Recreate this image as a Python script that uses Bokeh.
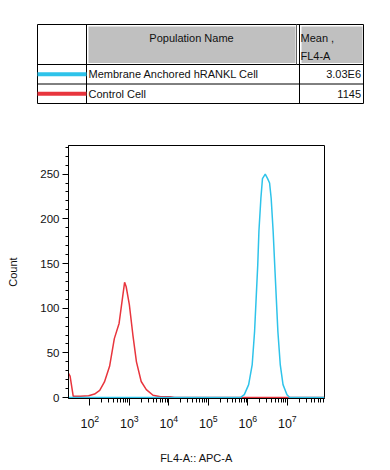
from bokeh.plotting import figure
from bokeh.models import Range1d, FixedTicker, LogTickFormatter, ColumnDataSource
from bokeh.core.properties import value
from bokeh.embed import file_html
from bokeh.resources import INLINE

# ---------------- data ----------------
populations = ["Membrane Anchored hRANKL Cell", "Control Cell"]
mean_fl4a = ["3.03E6", "1145"]
series_colors = ["#2EC3EA", "#E8353D"]
header_name = "Population Name"
header_mean = ["Mean ,", "FL4-A"]

# Control cell histogram (log10 of FL4-A, count)
red_log10 = [1.46, 1.50, 1.58, 1.76, 1.97, 2.12, 2.25, 2.37, 2.50, 2.62, 2.74, 2.81,
             2.88, 2.92, 3.00, 3.09, 3.18, 3.30, 3.43, 3.60, 3.79, 4.04, 4.14, 7.94]
red_count = [27, 24, 1.5, 1.5, 2, 4, 8, 17.5, 35, 66, 83, 106,
             129, 124, 104, 70, 40, 18, 9, 2.6, 1, 1, 0, 0]

# Membrane anchored hRANKL cell histogram
blue_log10 = [1.46, 5.81, 5.91, 6.02, 6.11, 6.17, 6.21, 6.25, 6.28, 6.33, 6.37, 6.44,
              6.50, 6.55, 6.59, 6.64, 6.68, 6.72, 6.76, 6.82, 6.89, 6.99, 7.06, 7.94]
blue_count = [0, 0, 3.3, 14.5, 37, 74, 111, 148, 186, 223, 245, 250,
              245, 240, 223, 186, 148, 111, 74, 37, 14.5, 3.3, 0, 0]

y_ticks = [0, 50, 100, 150, 200, 250]
y_minor = [10, 20, 30, 40, 60, 70, 80, 90, 110, 120, 130, 140, 160, 170, 180, 190,
           210, 220, 230, 240, 260, 270, 280]
x_tick_exponents = [2, 3, 4, 5, 6, 7]

FONT = "Liberation Sans"
FS = "11px"

# ---------------- table ----------------
t = figure(width=390, height=118, x_range=Range1d(0, 390), y_range=Range1d(118, 0),
           toolbar_location=None, output_backend="svg", min_border=0,
           x_axis_location=None, y_axis_location=None)
t.grid.visible = False
t.outline_line_color = None

L, C1, C2, R = 37, 86, 299, 363
T, H1, R1, B = 24, 64, 83.5, 103

# grey header cells
t.quad(left=[88, 301], right=[295, 362], top=[26, 26], bottom=[62.5, 62.5],
       fill_color="#C0C0C0", line_color=None)

# horizontal lines
t.multi_line(xs=[[L, R]] * 4, ys=[[T, T], [H1, H1], [R1, R1], [B, B]],
             line_color="black", line_width=1)
# vertical lines
t.multi_line(xs=[[L, L], [C1, C1], [C2, C2], [R, R], [296, 296]],
             ys=[[T, B], [T, B], [T, B], [T, B], [T, H1]],
             line_color=["black", "black", "black", "black", "#606060"], line_width=1)

# swatches
row_y = [(H1 + R1) / 2, (R1 + B) / 2]
t.multi_line(xs=[[L, C1], [L, C1]], ys=[[row_y[0], row_y[0]], [row_y[1], row_y[1]]],
             line_color=series_colors, line_width=4)

# header text
t.text(x=[(C1 + 296) / 2], y=[37], text=[header_name], text_align="center",
       text_baseline="middle", text_font=value(FONT), text_font_size=value(FS),
       text_color="#111111")
t.text(x=[300, 300], y=[37, 55], text=header_mean, text_align="left",
       text_baseline="middle", text_font=value(FONT), text_font_size=value(FS),
       text_color="#111111")
# rows
t.text(x=[88, 88], y=row_y, text=populations, text_align="left",
       text_baseline="middle", text_font=value(FONT), text_font_size=value(FS),
       text_color="#111111")
t.text(x=[360.5, 360.5], y=row_y, text=mean_fl4a, text_align="right",
       text_baseline="middle", text_font=value(FONT), text_font_size=value(FS),
       text_color="#111111")

# ---------------- histogram ----------------
p = figure(width=390, height=352, x_axis_type="log",
           x_range=Range1d(10 ** 1.46, 10 ** 7.94), y_range=Range1d(-1, 282),
           toolbar_location=None, output_backend="svg",
           min_border_left=68, min_border_right=66, min_border_top=27, min_border_bottom=72)
p.grid.visible = False
p.outline_line_color = "black"
p.outline_line_width = 1
p.background_fill_color = "white"

red_src = ColumnDataSource(dict(x=[10 ** v for v in red_log10], y=red_count))
blue_src = ColumnDataSource(dict(x=[10 ** v for v in blue_log10], y=blue_count))
p.line("x", "y", source=red_src, line_color=series_colors[1], line_width=1.5)
p.line("x", "y", source=blue_src, line_color=series_colors[0], line_width=1.5)

p.yaxis.ticker = FixedTicker(ticks=y_ticks, minor_ticks=y_minor)
x_major = [10 ** e for e in x_tick_exponents]
x_minor = [m * 10 ** e for e in range(2, 8) for m in range(2, 10) if m * 10 ** e < 10 ** 7.94]
p.xaxis.ticker = FixedTicker(ticks=x_major, minor_ticks=x_minor)
p.xaxis.formatter = LogTickFormatter()

for ax in (p.xaxis[0], p.yaxis[0]):
    ax.axis_line_color = "black"
    ax.major_tick_line_color = "black"
    ax.minor_tick_line_color = "black"
    ax.major_tick_in = 0
    ax.minor_tick_in = 0
    ax.major_label_text_font = FONT
    ax.major_label_text_color = "#111111"
    ax.axis_label_text_font = FONT
    ax.axis_label_text_font_size = FS
    ax.axis_label_text_font_style = "normal"
    ax.axis_label_text_color = "#111111"

p.yaxis.major_label_text_font_size = "11.5px"
p.yaxis.major_tick_out = 6
p.yaxis.minor_tick_out = 3
p.yaxis.major_label_standoff = 3
p.yaxis.axis_label = "Count"
p.yaxis.axis_label_standoff = 18

p.xaxis.major_label_text_font_size = "12.5px"
p.xaxis.major_tick_out = 7
p.xaxis.minor_tick_out = 4
p.xaxis.major_label_standoff = 9
p.xaxis.axis_label = "FL4-A:: APC-A"
p.xaxis.axis_label_standoff = 21

open("out.html", "w").write(file_html([t, p], INLINE))
